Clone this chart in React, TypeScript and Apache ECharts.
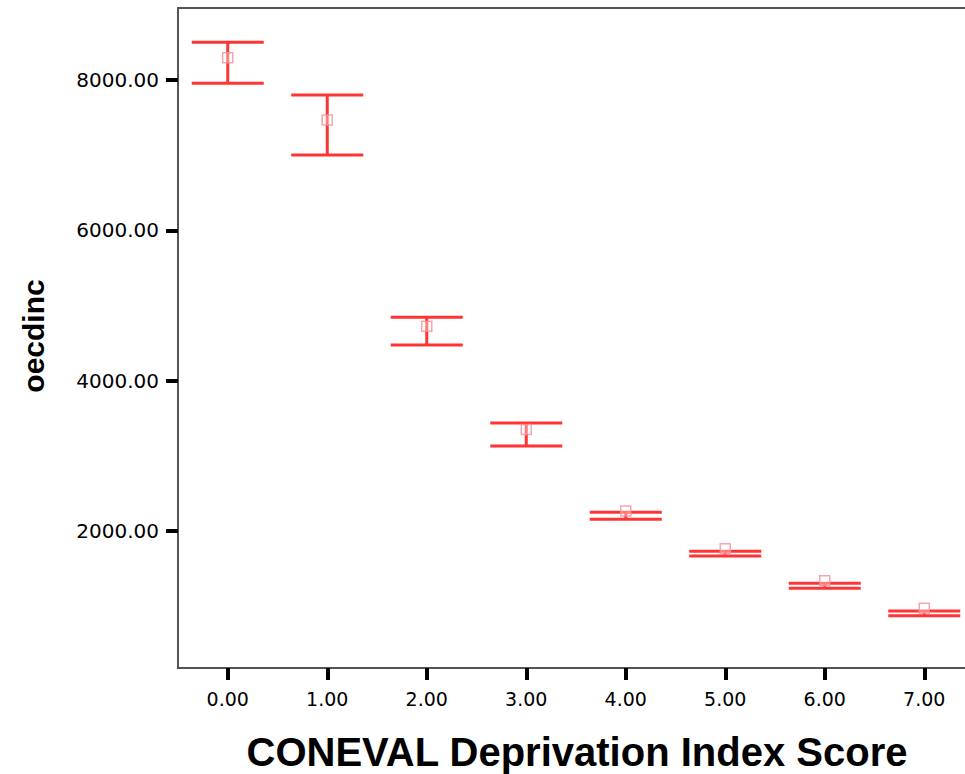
import React, { useEffect, useRef } from "react";
import * as echarts from "echarts";

const categories = ["0.00", "1.00", "2.00", "3.00", "4.00", "5.00", "6.00", "7.00"];
const upperCI = [8502, 7800, 4842, 3436, 2247, 1728, 1303, 934];
const lowerCI = [7956, 7002, 4474, 3130, 2154, 1666, 1236, 871];
const means = [8229, 7401, 4658, 3283, 2200, 1697, 1270, 903];
const yTickValues = [2000, 4000, 6000, 8000];

export default function App() {
  const ref = useRef<HTMLDivElement>(null);
  useEffect(() => {
    if (!ref.current) return;
    const chart = echarts.init(ref.current, null, { renderer: "svg" });
    const barData = categories.map((_, i) => [i, lowerCI[i], upperCI[i]]);
    const red = "#ff3535";
    chart.setOption({
      animation: false,
      backgroundColor: "#ffffff",
      grid: {
        left: 178,
        top: 8,
        width: 796,
        height: 660,
        show: true,
        borderColor: "#555555",
        borderWidth: 2,
      },
      xAxis: {
        type: "category",
        data: categories,
        boundaryGap: true,
        axisLine: { show: false },
        axisTick: {
          show: true,
          alignWithLabel: true,
          length: 12,
          lineStyle: { color: "#000", width: 4 },
        },
        axisLabel: {
          margin: 21,
          fontSize: 19,
          fontFamily: "DejaVu Sans",
          color: "#000",
        },
        splitLine: { show: false },
      },
      yAxis: {
        type: "value",
        min: 176,
        max: 8958,
        axisLine: { show: false },
        axisTick: {
          show: true,
          length: 12,
          customValues: yTickValues,
          lineStyle: { color: "#000", width: 4 },
        },
        axisLabel: {
          customValues: yTickValues,
          margin: 19,
          fontSize: 20,
          fontFamily: "DejaVu Sans",
          color: "#000",
          formatter: (v: number) => v.toFixed(2),
        },
        splitLine: { show: false },
      },
      series: [
        {
          type: "custom",
          data: barData,
          renderItem: (params: any, api: any) => {
            const x = api.value(0);
            const lo = api.coord([x, api.value(1)]);
            const hi = api.coord([x, api.value(2)]);
            const half = api.size([1, 0])[0] * 0.362;
            const style = { stroke: red, lineWidth: 3 };
            return {
              type: "group",
              children: [
                { type: "line", shape: { x1: lo[0], y1: lo[1], x2: hi[0], y2: hi[1] }, style },
                { type: "line", shape: { x1: hi[0] - half, y1: hi[1], x2: hi[0] + half, y2: hi[1] }, style },
                { type: "line", shape: { x1: lo[0] - half, y1: lo[1], x2: lo[0] + half, y2: lo[1] }, style },
              ],
            };
          },
          z: 2,
        },
        {
          type: "scatter",
          data: means.map((m, i) => [i, m]),
          symbol: "rect",
          symbolSize: 10,
          symbolOffset: [0, -5],
          itemStyle: {
            color: "rgba(255,255,255,0.45)",
            borderColor: "#f3909a",
            borderWidth: 1.5,
          },
          z: 3,
        },
      ],
      graphic: [
        {
          type: "text",
          x: 33,
          y: 336,
          rotation: Math.PI / 2,
          style: {
            text: "oecdinc",
            fontSize: 30,
            fontWeight: "bold",
            fontFamily: "Liberation Sans",
            fill: "#000",
            align: "center",
            verticalAlign: "middle",
          },
        },
        {
          type: "text",
          x: 577,
          y: 752,
          style: {
            text: "CONEVAL Deprivation Index Score",
            fontSize: 40,
            fontWeight: "bold",
            fontFamily: "Liberation Sans",
            fill: "#000",
            align: "center",
            verticalAlign: "middle",
          },
        },
      ],
    });
    return () => chart.dispose();
  }, []);
  return (
    <div
      style={{
        position: "fixed",
        left: 0,
        top: 0,
        width: 965,
        height: 774,
        overflow: "hidden",
        background: "#fff",
      }}
    >
      <div ref={ref} style={{ width: 990, height: 774 }} />
    </div>
  );
}
